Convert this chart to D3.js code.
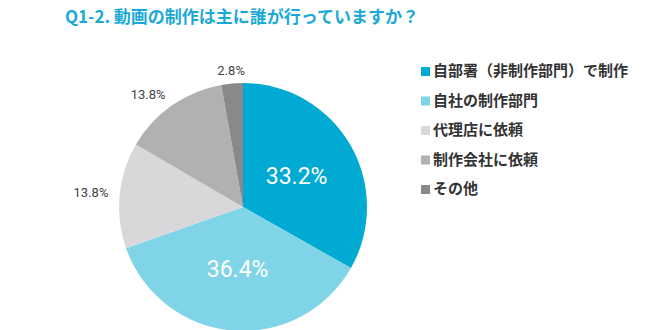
<!DOCTYPE html>
<html><head><meta charset="utf-8">
<script src="https://cdn.jsdelivr.net/npm/d3@7"></script>
<style>body{margin:0;background:#fff}svg{display:block}</style>
</head><body>
<svg id="chart" width="650" height="330"></svg>
<script>
const categories = ["自部署（非制作部門）で制作", "自社の制作部門", "代理店に依頼", "制作会社に依頼", "その他"];
const values = [33.2, 36.4, 13.8, 13.8, 2.8];
const colors = ["#00aad2", "#80d4e8", "#d8d8da", "#b0b1b2", "#88898b"];
const title = "Q1-2. 動画の制作は主に誰が行っていますか？";

const svg = d3.select("#chart");
const font = "'Noto Sans CJK JP', 'Noto Sans', sans-serif";

svg.append("text").attr("x", 65).attr("y", 23)
  .attr("font-family", font).attr("font-size", 17).attr("font-weight", 700)
  .attr("fill", "#1aa9d6").text(title);

const cx = 243, cy = 207, r = 124;
const pie = d3.pie().sort(null).value(d => d)(values);
const arc = d3.arc().innerRadius(0).outerRadius(r);
const g = svg.append("g").attr("transform", `translate(${cx},${cy})`);

g.selectAll("path").data(pie).join("path")
  .attr("d", arc).attr("fill", (d, i) => colors[i]);

// large slices get a label inside; small slices get one just outside the rim
const inArc = d3.arc().innerRadius(r * 0.5).outerRadius(r * 0.5);
const outArc = d3.arc().innerRadius(r * 1.09).outerRadius(r * 1.09);
const midSin = d => Math.sin((d.startAngle + d.endAngle) / 2);
g.selectAll("text.lbl").data(pie).join("text")
  .attr("class", "lbl")
  .attr("transform", (d, i) => `translate(${(i < 2 ? inArc : outArc).centroid(d)})`)
  .attr("text-anchor", (d, i) => {
    if (i < 2 || Math.abs(midSin(d)) < 0.3) return "middle";
    return midSin(d) < 0 ? "end" : "start";
  })
  .attr("dy", (d, i) => i < 2 ? "0.35em" : "0.2em")
  .attr("font-family", "Roboto, 'Noto Sans', sans-serif")
  .attr("font-size", (d, i) => i < 2 ? 23 : 13)
  .attr("fill", (d, i) => i < 2 ? "#fff" : "#444")
  .text(d => d.data.toFixed(1) + "%");

const leg = svg.append("g").attr("transform", "translate(421,71)");
const rows = leg.selectAll("g").data(categories).join("g")
  .attr("transform", (d, i) => `translate(0,${i * 29.5})`);
rows.append("rect").attr("x", 0).attr("y", -4).attr("width", 9).attr("height", 9)
  .attr("fill", (d, i) => colors[i]);
rows.append("text").attr("x", 12).attr("y", 0).attr("dy", "0.35em")
  .attr("font-family", font).attr("font-size", 15).attr("font-weight", 700)
  .attr("fill", "#333").text(d => d);
</script>
</body></html>
